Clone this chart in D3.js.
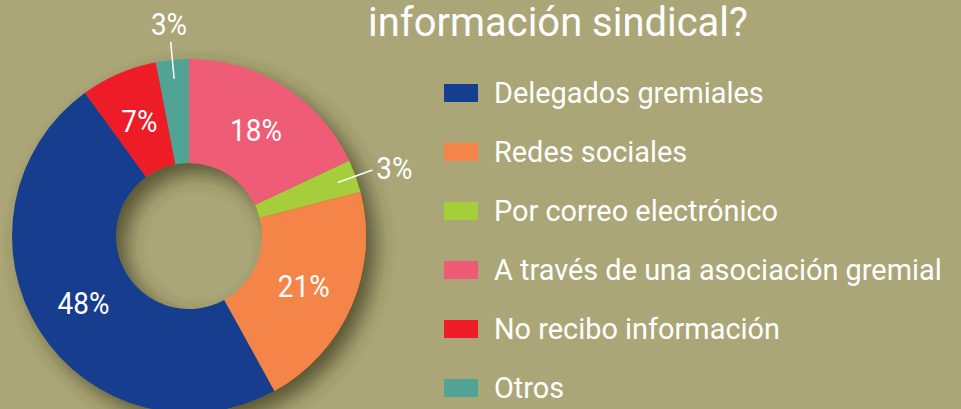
<!DOCTYPE html>
<html>
<head>
<meta charset="utf-8">
<script src="https://cdn.jsdelivr.net/npm/d3@7"></script>
<style>
  html, body { margin: 0; padding: 0; background: #aba677; overflow: hidden; }
  svg { display: block; }
  text { font-family: Roboto, "Noto Sans", sans-serif; fill: #fff; }
</style>
</head>
<body>
<svg id="chart" width="961" height="409"></svg>
<script>
// data, in slice order clockwise from 12 o'clock
const sliceNames = ['A través de una asociación gremial', 'Por correo electrónico', 'Redes sociales', 'Delegados gremiales', 'No recibo información', 'Otros']
const sliceValues = [18, 3, 21, 48, 7, 3]
const sliceColors = ['#ef5b74', '#a6cd3a', '#f5844a', '#153e8e', '#ed1c26', '#51a394']
// legend order
const legendNames = ['Delegados gremiales', 'Redes sociales', 'Por correo electrónico', 'A través de una asociación gremial', 'No recibo información', 'Otros']
const titleText = 'información sindical?'

const svg = d3.select('#chart')
const cx = 189
const cy = 236
const outerR = 177
const innerR = 73
const narrow = 0.9 // the original face is a narrow DIN-like one

const color = d3.scaleOrdinal().domain(sliceNames).range(sliceColors)

// drop shadow (falls into the hole too)
const defs = svg.append('defs')
const filter = defs.append('filter')
  .attr('id', 'shadow')
  .attr('x', '-30%').attr('y', '-30%')
  .attr('width', '160%').attr('height', '160%')
filter.append('feGaussianBlur').attr('in', 'SourceAlpha').attr('stdDeviation', 10).attr('result', 'blur')
filter.append('feOffset').attr('in', 'blur').attr('dx', 10).attr('dy', 10).attr('result', 'off')
filter.append('feComponentTransfer').attr('in', 'off').attr('result', 'shade')
  .append('feFuncA').attr('type', 'linear').attr('slope', 0.7)
filter.append('feFlood').attr('flood-color', '#353318').attr('result', 'col')
filter.append('feComposite').attr('in', 'col').attr('in2', 'shade').attr('operator', 'in').attr('result', 'sh')
const merge = filter.append('feMerge')
merge.append('feMergeNode').attr('in', 'sh')
merge.append('feMergeNode').attr('in', 'SourceGraphic')

const pie = d3.pie().sort(null).value(d => d.value)
const arcs = pie(sliceNames.map((name, i) => ({ name, value: sliceValues[i] })))
const arc = d3.arc().innerRadius(innerR).outerRadius(outerR)

const g = svg.append('g').attr('transform', `translate(${cx},${cy})`)

g.append('g')
  .attr('filter', 'url(#shadow)')
  .selectAll('path')
  .data(arcs)
  .enter()
  .append('path')
  .attr('d', arc)
  .attr('fill', d => color(d.data.name))

// labels: inside for big slices, outside with a leader for small ones
const labelSize = 31
const small = arcs.filter(d => d.data.value < 5)
const big = arcs.filter(d => d.data.value >= 5)

g.selectAll('.inlabel')
  .data(big)
  .enter()
  .append('text')
  .attr('class', 'inlabel')
  .attr('transform', d => `translate(${arc.centroid(d)}) scale(${narrow},1)`)
  .attr('dy', '0.35em')
  .attr('text-anchor', 'middle')
  .style('font-size', labelSize + 'px')
  .text(d => d.data.value + '%')

const midAngle = d => (d.startAngle + d.endAngle) / 2
const polar = (a, r) => [Math.sin(a) * r, -Math.cos(a) * r]

g.selectAll('.leader')
  .data(small)
  .enter()
  .append('line')
  .attr('x1', d => polar(midAngle(d), 158)[0])
  .attr('y1', d => polar(midAngle(d), 158)[1])
  .attr('x2', d => polar(midAngle(d), 195)[0])
  .attr('y2', d => polar(midAngle(d), 195)[1])
  .attr('stroke', '#fff')
  .attr('stroke-width', 1.5)

g.selectAll('.outlabel')
  .data(small)
  .enter()
  .append('text')
  .attr('class', 'outlabel')
  .each(function (d) {
    const a = midAngle(d)
    const top = Math.abs(Math.sin(a)) < 0.5
    const p = polar(a, top ? 213 : 199)
    d3.select(this)
      .attr('transform', `translate(${p}) scale(${narrow},1)`)
      .attr('dy', '0.35em')
      .attr('text-anchor', top ? 'middle' : 'start')
  })
  .style('font-size', labelSize + 'px')
  .text(d => d.data.value + '%')

// title (second line only is visible)
const title = svg.append('text')
  .style('font-size', '40px')
  .text(titleText)
const tw = title.node().getComputedTextLength()
title.attr('transform', `translate(368,36) scale(${380 / tw},1)`)

// legend
const legend = svg.append('g').attr('transform', 'translate(444,84)')
const rowStep = 59
const rows = legend.selectAll('.row')
  .data(legendNames)
  .enter()
  .append('g')
  .attr('class', 'row')
  .attr('transform', (d, i) => `translate(0,${i * rowStep})`)
rows.append('rect')
  .attr('width', 34)
  .attr('height', 18)
  .attr('fill', d => color(d))
const legendTexts = rows.append('text')
  .style('font-size', '30px')
  .text(d => d)
const longest = d3.max(legendTexts.nodes(), n => n.getComputedTextLength())
legendTexts.attr('transform', `translate(50,19) scale(${448 / longest},1)`)
</script>
</body>
</html>
